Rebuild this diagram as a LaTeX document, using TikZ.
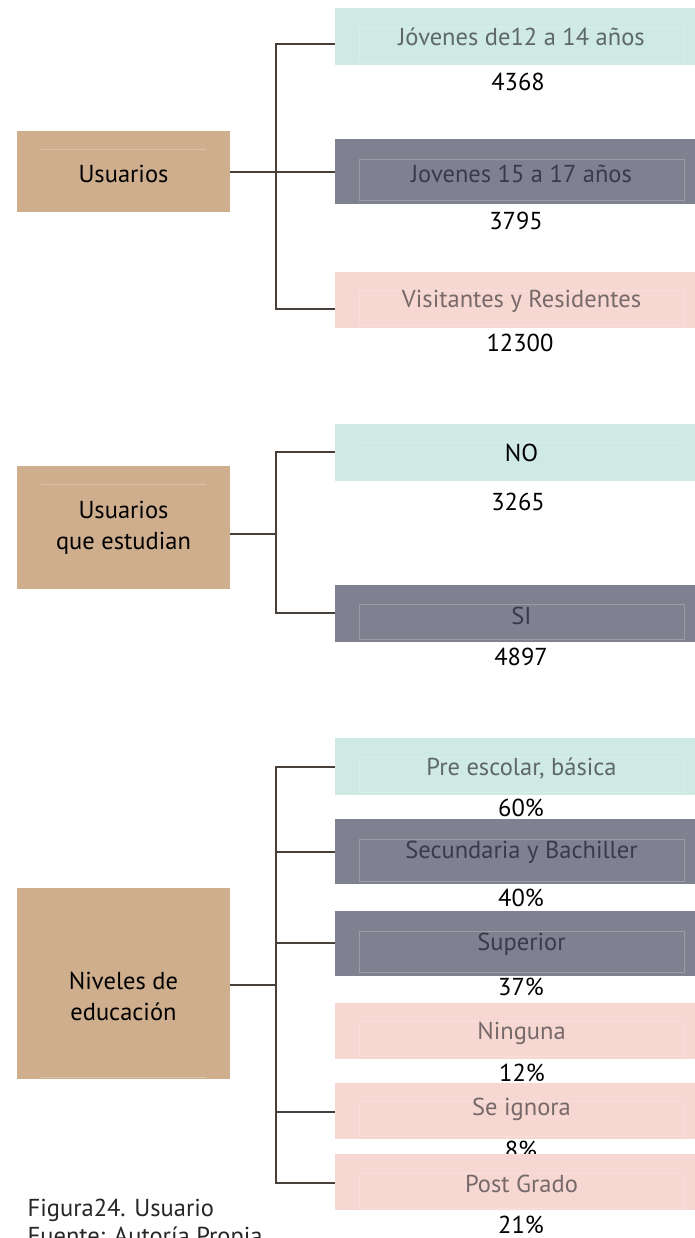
\documentclass[tikz,border=0pt]{standalone}
\usepackage{fontspec}
\setmainfont{PT Sans}
\usepackage{tikz}
\usepackage{xcolor}

\definecolor{boxtan}{HTML}{CFAE8E}
\definecolor{boxteal}{HTML}{CFE9E4}
\definecolor{boxgrey}{HTML}{7F8190}
\definecolor{boxpink}{HTML}{F7D7D1}
\definecolor{linkcol}{HTML}{4A403A}
\definecolor{tealtext}{HTML}{5E6866}
\definecolor{greytext}{HTML}{383B4A}
\definecolor{pinktext}{HTML}{76696A}

\begin{document}
\begin{tikzpicture}[x=1pt,y=-1pt]
\tikzstyle{every node}+=[inner sep=0pt, font=\fontsize{24.5}{31}\selectfont]
\tikzstyle{leftbox}=[fill=boxtan, minimum width=213pt, anchor=north west]
\tikzstyle{rbox}=[minimum width=360.5pt, anchor=north west]
\tikzstyle{tealbox}=[rbox, fill=boxteal]
\tikzstyle{greybox}=[rbox, fill=boxgrey]
\tikzstyle{pinkbox}=[rbox, fill=boxpink]
\tikzstyle{lefttext}=[align=center, text=black]
\tikzstyle{count}=[text=black]
\tikzstyle{frame}=[draw=white, opacity=0.22, line width=0.6pt]
\tikzstyle{link}=[draw=linkcol, line width=2.2pt]
\useasboundingbox (0,0) rectangle (695,1238);
% numbers under the boxes
\node [count] (n1) at (518,82) {4368};
\node [count] (n2) at (516,221) {3795};
\node [count] (n3) at (520,343) {12300};
\node [count] (n4) at (518,502) {3265};
\node [count] (n5) at (521,657) {4897};
\node [count] (n6) at (521,808) {60\%};
\node [count] (n7) at (521,898) {40\%};
\node [count] (n8) at (521,987) {37\%};
\node [count] (n9) at (522,1073) {12\%};
\node [count] (n10) at (521,1150) {8\%};
\node [count] (n11) at (521,1225) {21\%};
% left boxes
\node [leftbox, minimum height=81pt] (usr) at (17,131) {};
\draw [draw=white, opacity=0.25] (41,149) -- (206,149);
\node [lefttext] (usrtxt) at (123.5,174) {Usuarios};
\node [leftbox, minimum height=123pt] (est) at (17,466) {};
\draw [draw=white, opacity=0.25] (41,484) -- (206,484);
\node [lefttext] (esttxt) at (123.5,528) {Usuarios\\que estudian};
\node [leftbox, minimum height=191pt] (niv) at (17,888) {};
\draw [draw=white, opacity=0.25] (41,1077) -- (206,1077);
\node [lefttext] (nivtxt) at (123.5,996) {Niveles de\\educación};
% right boxes, group 1
\node [tealbox, minimum height=57pt] (jov1) at (334.5,7.5) {};
\draw [frame] (359,27) rectangle (684,62);
\node [text=tealtext] (jov1txt) at (521.5,37) {Jóvenes de12 a 14 años};
\node [greybox, minimum height=65pt] (jov2) at (334.5,139) {};
\draw [frame] (359,159) rectangle (684,200);
\node [text=greytext] (jov2txt) at (521.5,174) {Jovenes 15 a 17 años};
\node [pinkbox, minimum height=56pt] (vis) at (334.5,272) {};
\draw [frame] (359,290) rectangle (684,325);
\node [text=pinktext] (vistxt) at (521.5,301) {Visitantes y Residentes};
% right boxes, group 2
\node [tealbox, minimum height=57pt] (no) at (334.5,424) {};
\draw [frame] (359,442) -- (684,442);
\node [text=black] (notxt) at (521.5,453) {NO};
\node [greybox, minimum height=57pt] (si) at (334.5,585) {};
\draw [frame] (359,604) rectangle (684,639);
\node [text=greytext] (sitxt) at (521.5,616) {SI};
% right boxes, group 3
\node [tealbox, minimum height=57pt] (pre) at (334.5,738) {};
\draw [frame] (359,757) rectangle (684,792);
\node [text=tealtext] (pretxt) at (521.5,768) {Pre escolar, básica};
\node [greybox, minimum height=65pt] (sec) at (334.5,819) {};
\draw [frame] (359,839) rectangle (684,881);
\node [text=greytext] (sectxt) at (521.5,852) {Secundaria y Bachiller};
\node [greybox, minimum height=65pt] (sup) at (334.5,911) {};
\draw [frame] (359,931) rectangle (684,972);
\node [text=greytext] (suptxt) at (521.5,944) {Superior};
\node [pinkbox, minimum height=56pt] (nin) at (334.5,1003) {};
\draw [frame] (359,1021) rectangle (684,1056);
\node [text=pinktext] (nintxt) at (521.5,1033) {Ninguna};
\node [pinkbox, minimum height=56pt] (ign) at (334.5,1083) {};
\draw [frame] (359,1101) rectangle (684,1136);
\node [text=pinktext] (igntxt) at (521.5,1109) {Se ignora};
\node [pinkbox, minimum height=56pt] (pos) at (334.5,1154) {};
\draw [frame] (359,1173) rectangle (684,1208);
\node [text=pinktext] (postxt) at (521.5,1184) {Post Grado};
% connectors
\coordinate (a1) at (275.7,44);
\coordinate (a3) at (275.7,309);
\draw [link] (jov1.west |- a1) -- (a1) -- (a3) -- (vis.west |- a3);
\draw [link] (usr.east) -- (jov2.west);
\coordinate (b1) at (275.7,452);
\coordinate (b2) at (275.7,534);
\coordinate (b3) at (275.7,613);
\draw [link] (no.west |- b1) -- (b1) -- (b3) -- (si.west |- b3);
\draw [link] (est.east |- b2) -- (b2);
\coordinate (c1) at (275.7,767);
\coordinate (c2) at (275.7,852);
\coordinate (c3) at (275.7,943);
\coordinate (c4) at (275.7,985);
\coordinate (c5) at (275.7,1112);
\coordinate (c6) at (275.7,1183);
\draw [link] (pre.west |- c1) -- (c1) -- (c6) -- (pos.west |- c6);
\draw [link] (c2) -- (sec.west |- c2);
\draw [link] (c3) -- (sup.west |- c3);
\draw [link] (niv.east |- c4) -- (c4);
\draw [link] (c5) -- (ign.west |- c5);
% caption
\node [anchor=base west, text=black!85] (fig) at (27.5,1216) {Figura24. Usuario};
\node [anchor=base west, text=black!85] (src) at (27.5,1244) {Fuente: Autoría Propia};
\end{tikzpicture}
\end{document}
